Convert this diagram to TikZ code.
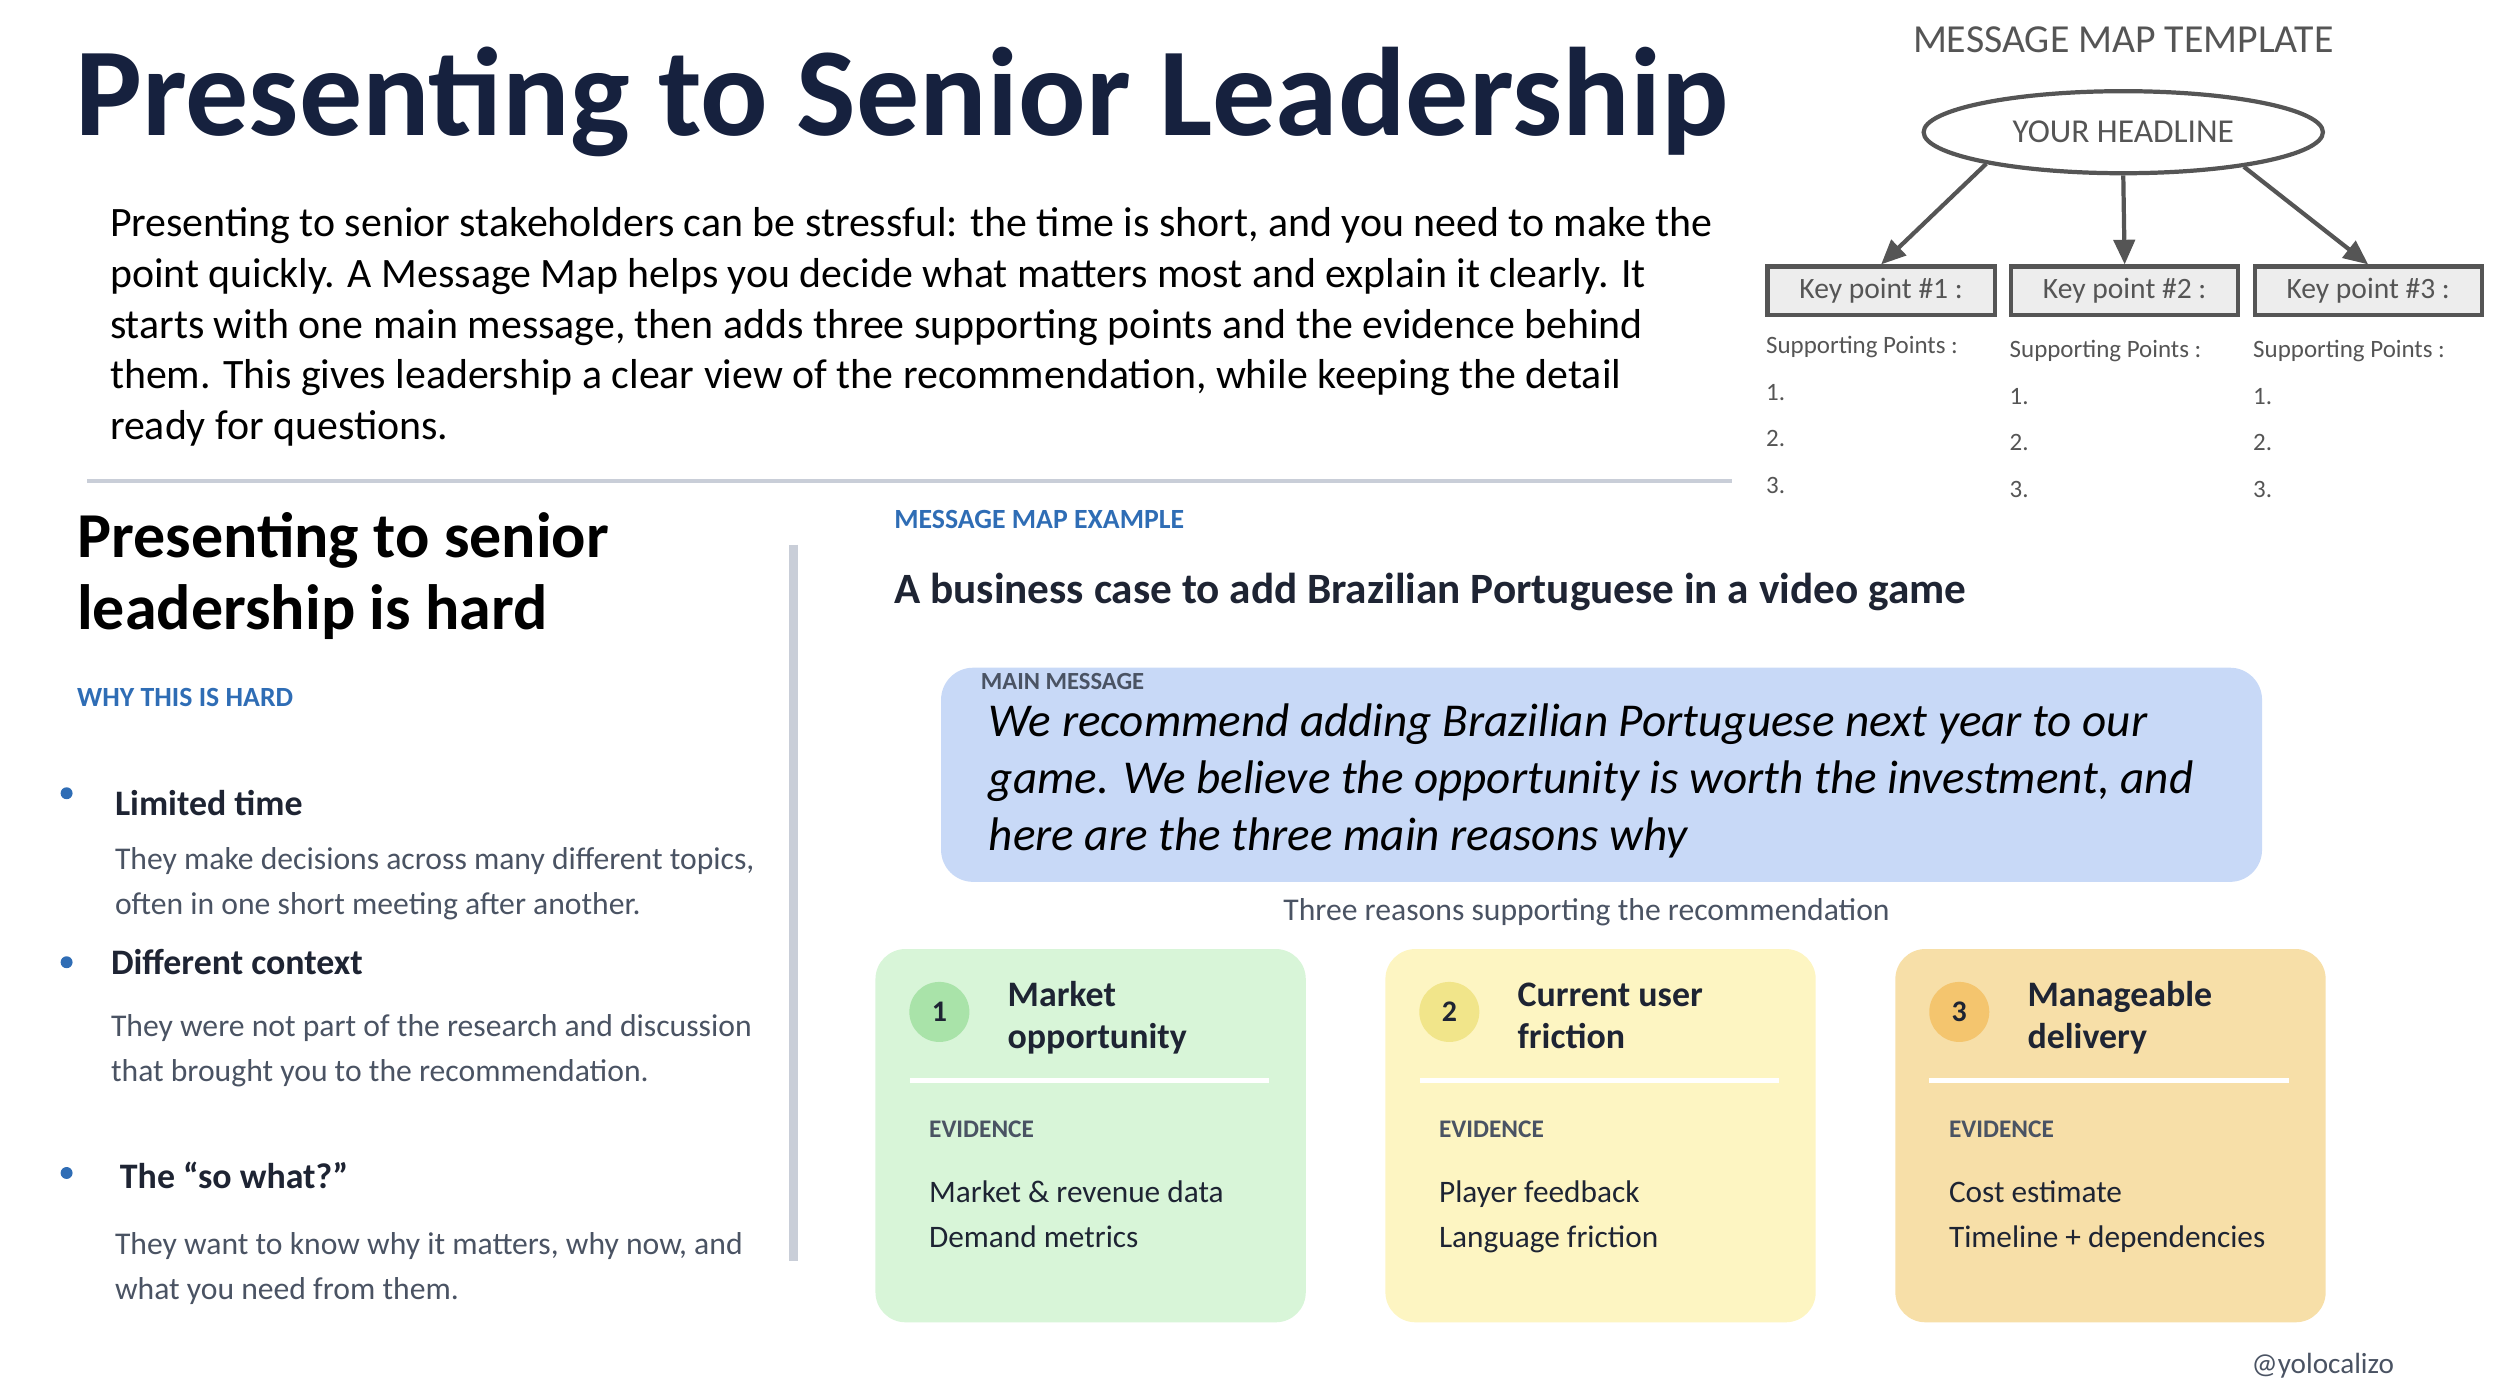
\documentclass[tikz,border=0pt]{standalone}
\usepackage{fontspec}
\setmainfont{Carlito}
\usetikzlibrary{shapes.geometric,arrows.meta}
\definecolor{navy}{HTML}{16213E}
\definecolor{ink}{HTML}{1E2433}
\definecolor{soft}{HTML}{4A5363}
\definecolor{linkblue}{HTML}{2F6DB5}
\definecolor{rule}{HTML}{C9CED8}
\definecolor{tgray}{HTML}{555555}
\definecolor{mainblue}{HTML}{C8D9F7}
\definecolor{cardA}{HTML}{D8F5D8}
\definecolor{cardB}{HTML}{FDF5C2}
\definecolor{cardC}{HTML}{F7DFA8}
\definecolor{dotA}{HTML}{A9E3A9}
\definecolor{dotB}{HTML}{F1E58A}
\definecolor{dotC}{HTML}{F4C56E}
\begin{document}
\begin{tikzpicture}
[
    x=0.00994cm, y=-0.00994cm,
    txt/.style={anchor=base west, inner sep=0, align=left},
    tag/.style={txt, font=\fontsize{7.9}{9}\selectfont\bfseries, text=linkblue},
    point/.style={txt, font=\fontsize{10.2}{12}\selectfont\bfseries, text=ink},
    note/.style={txt, font=\fontsize{9}{12.8}\selectfont, text=soft},
    kpbox/.style={draw=tgray, fill=black!7, line width=1.2pt, minimum width=2.27cm, minimum height=0.48cm, anchor=north west, font=\fontsize{8.4}{10}\selectfont, text=tgray},
    sp/.style={txt, font=\fontsize{7.1}{8}\selectfont, text=tgray},
    card/.style={rounded corners=0.3cm, minimum width=4.3cm, minimum height=3.73cm, anchor=north west, inner sep=0},
    num/.style={circle, minimum size=0.6cm, inner sep=0, font=\fontsize{8.5}{10}\selectfont\bfseries, text=ink},
    ctitle/.style={txt, font=\fontsize{10.2}{11.9}\selectfont\bfseries, text=ink},
    ev/.style={txt, font=\fontsize{8.9}{12.8}\selectfont, text=ink},
]
\useasboundingbox (0,0) rectangle (2515,1398);
% heading and intro (multi-line nodes sit on their last baseline)
\node [txt, font=\fontsize{35.8}{40}\selectfont\bfseries, text=navy] (title) at (75,136) {Presenting to Senior Leadership};
\node [txt, font=\fontsize{11.9}{14.4}\selectfont, text=black] (intro) at (110,442)
{Presenting to senior stakeholders can be stressful: the time is short, and you need to make the\\
point quickly. A Message Map helps you decide what matters most and explain it clearly. It\\
starts with one main message, then adds three supporting points and the evidence behind\\
them. This gives leadership a clear view of the recommendation, while keeping the detail\\
ready for questions.};
\coordinate (ruleL) at (88,484);
\coordinate (ruleR) at (1742,484);
\draw [rule, line width=1.2pt] (ruleL) -- (ruleR);
% template
\node [font=\fontsize{11.3}{12}\selectfont, text=tgray] (tmpl) at (2136,40) {MESSAGE MAP TEMPLATE};
\node [ellipse, draw=tgray, line width=1.2pt, minimum width=3.99cm, minimum height=0.82cm, inner sep=0, font=\fontsize{9.5}{11}\selectfont, text=tgray] (head) at (2136,133) {YOUR HEADLINE};
\node [kpbox] (kp1) at (1776,266) {Key point \#1 :};
\node [kpbox] (kp2) at (2021,266) {Key point \#2 :};
\node [kpbox] (kp3) at (2266,266) {Key point \#3 :};
\foreach \s/\k in {193/kp1, 270/kp2, 344/kp3}
    \draw [tgray, line width=1.2pt, -{Triangle[length=7pt, width=6pt]}] (head.\s) -- (\k.north);
\foreach \i/\x/\y in {1/1776/356, 2/2021/360, 3/2266/360}
{
    \node [sp] (sp\i) at (\x,\y) {Supporting Points :};
    \node [sp] (sp\i a) at (\x,\y+47) {1.};
    \node [sp] (sp\i b) at (\x,\y+93) {2.};
    \node [sp] (sp\i c) at (\x,\y+140) {3.};
}
% left column
\node [txt, font=\fontsize{18.2}{20.5}\selectfont\bfseries, text=black] (hard) at (77,633) {Presenting to senior\\leadership is hard};
\node [tag] (why) at (77,711) {WHY THIS IS HARD};
\fill [linkblue] (67,798) circle (6) (67,968) circle (6) (67,1180) circle (6);
\node [point] (p1) at (115,820) {Limited time};
\node [note] (n1) at (115,920) {They make decisions across many different topics,\\often in one short meeting after another.};
\node [point] (p2) at (111,980) {Different context};
\node [note] (n2) at (111,1088) {They were not part of the research and discussion\\that brought you to the recommendation.};
\node [point] (p3) at (120,1196) {The “so what?”};
\node [note] (n3) at (115,1307) {They want to know why it matters, why now, and\\what you need from them.};
\coordinate (divT) at (798,548);
\coordinate (divB) at (798,1269);
\draw [rule, line width=2.5pt] (divT) -- (divB);
% example
\node [tag] (ex) at (899,532) {MESSAGE MAP EXAMPLE};
\node [txt, font=\fontsize{12.3}{14}\selectfont\bfseries, text=ink] (case) at (899,607) {A business case to add Brazilian Portuguese in a video game};
\node [fill=mainblue, rounded corners=0.32cm, minimum width=13.2cm, minimum height=2.14cm, anchor=north west] (main) at (946,671) {};
\node [txt, font=\fontsize{7}{8}\selectfont\bfseries, text=soft] (mm) at (986,694) {MAIN MESSAGE};
\node [txt, font=\fontsize{13.4}{16.2}\selectfont\itshape, text=black] (msg) at (994,856)
{We recommend adding Brazilian Portuguese next year to our\\
game. We believe the opportunity is worth the investment, and\\
here are the three main reasons why};
\node [font=\fontsize{9}{11}\selectfont, text=soft] (three) at (1596,918) {Three reasons supporting the recommendation};
% cards
\foreach \i/\x/\c/\d/\ta/\tb/\ea/\eb in {
    1/880/cardA/dotA/Market/opportunity/Market \& revenue data/Demand metrics,
    2/1393/cardB/dotB/Current user/friction/Player feedback/Language friction,
    3/1906/cardC/dotC/Manageable/delivery/Cost estimate/Timeline + dependencies}
{
    \node [card, fill=\c] (card\i) at (\x,954) {};
    \node [num, fill=\d] (num\i) at (\x+65,1018) {\i};
    \node [ctitle] (ct\i) at (\x+133,1055) {\ta\\\tb};
    \draw [white, line width=1.2pt] (\x+35,1087) -- (\x+397,1087);
    \node [txt, font=\fontsize{7.2}{8}\selectfont\bfseries, text=soft] (ev\i) at (\x+54,1144) {EVIDENCE};
    \node [ev] (ea\i) at (\x+54,1255) {\ea\\\eb};
}
\node [anchor=base east, inner sep=0, font=\fontsize{8.3}{10}\selectfont, text=soft] (handle) at (2409,1382) {@yolocalizo};
\end{tikzpicture}
\end{document}
